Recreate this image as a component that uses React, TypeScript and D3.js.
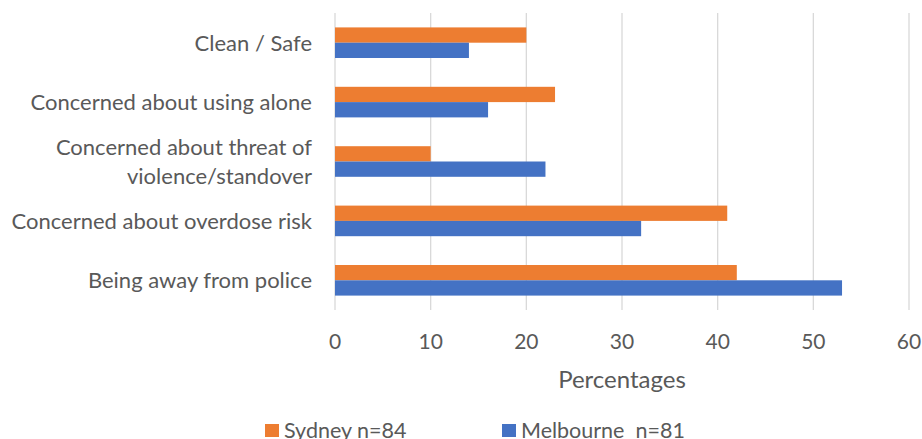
import React from 'react';
import * as d3 from 'd3';

const categories = [
  'Clean / Safe',
  'Concerned about using alone',
  'Concerned about threat of violence/standover',
  'Concerned about overdose risk',
  'Being away from police',
];

// label lines, as the original wraps the long one
const categoryLines: Record<string, string[]> = {
  'Concerned about threat of violence/standover': ['Concerned about threat of', 'violence/standover'],
};

const series = ['Sydney n=84', 'Melbourne  n=81'];
const sydney = [20, 23, 10, 41, 42];
const melbourne = [14, 16, 22, 32, 53];
const xTicks = [0, 10, 20, 30, 40, 50, 60];

const colors = ['#ED7D31', '#4472C4'];
const textColor = '#595959';
const font = 'Lato, "Open Sans", sans-serif';

const width = 922;
const height = 439;

export default function App() {
  const x = d3.scaleLinear().domain([0, 60]).range([335, 909]);
  const y = d3.scaleBand<string>()
    .domain(categories)
    .range([13, 310])
    .paddingInner(0.485)
    .paddingOuter(0.2425);
  const ySub = d3.scaleBand<string>().domain(series).range([0, y.bandwidth()]);

  const values = [sydney, melbourne];

  return (
    <svg
      width={width}
      height={height}
      style={{ position: 'absolute', left: 0, top: 0, background: '#fff' }}
      fontFamily={font}
    >
      {/* gridlines */}
      {xTicks.map(t => (
        <line
          key={t}
          x1={x(t)}
          x2={x(t)}
          y1={13}
          y2={310}
          stroke="#d9d9d9"
          strokeWidth={1.3}
        />
      ))}

      {/* bars */}
      {categories.map((c, i) => (
        <g key={c} transform={`translate(0,${y(c)})`}>
          {series.map((s, j) => (
            <rect
              key={s}
              x={x(0)}
              y={ySub(s)}
              width={x(values[j][i]) - x(0)}
              height={ySub.bandwidth()}
              fill={colors[j]}
            />
          ))}
        </g>
      ))}

      {/* category labels */}
      {categories.map(c => {
        const lines = categoryLines[c] || [c];
        const cy = (y(c) as number) + y.bandwidth() / 2;
        const lh = 28.5;
        return (
          <text
            key={c}
            x={312}
            y={cy - ((lines.length - 1) * lh) / 2 + 8}
            textAnchor="end"
            fontSize={22}
            fill={textColor}
          >
            {lines.map((l, k) => (
              <tspan key={k} x={312} dy={k === 0 ? 0 : lh}>{l}</tspan>
            ))}
          </text>
        );
      })}

      {/* x tick labels */}
      {xTicks.map(t => (
        <text
          key={t}
          x={x(t)}
          y={349}
          textAnchor="middle"
          fontSize={21}
          fill={textColor}
        >
          {t}
        </text>
      ))}

      {/* axis title */}
      <text
        x={(x(0) + x(60)) / 2}
        y={388}
        textAnchor="middle"
        fontSize={24}
        fill={textColor}
      >
        Percentages
      </text>

      {/* legend */}
      {series.map((s, j) => {
        const lx = [265, 502][j];
        return (
          <g key={s}>
            <rect x={lx} y={424} width={14} height={13} fill={colors[j]} />
            <text
              x={lx + 19}
              y={438}
              fontSize={21.5}
              fill={textColor}
              style={{ whiteSpace: 'pre' }}
            >
              {s}
            </text>
          </g>
        );
      })}
    </svg>
  );
}
